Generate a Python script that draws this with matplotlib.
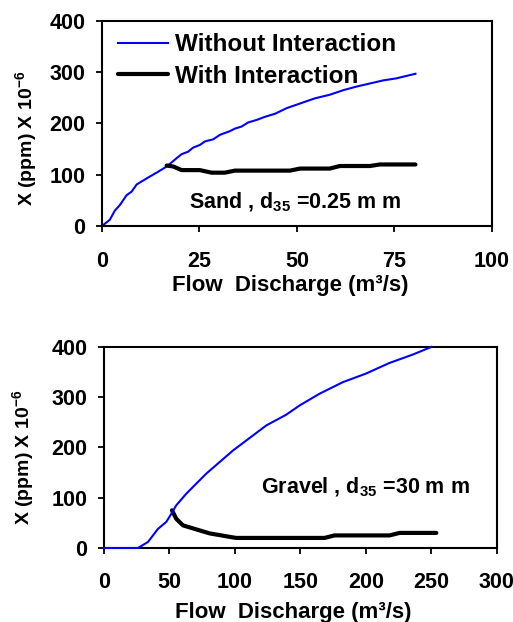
import matplotlib
matplotlib.use("Agg")
import matplotlib.pyplot as plt

plt.rcParams['font.family'] = ['Liberation Sans', 'DejaVu Sans']
plt.rcParams['font.weight'] = 'bold'
plt.rcParams['mathtext.fontset'] = 'custom'
plt.rcParams['mathtext.rm'] = 'Liberation Sans'
plt.rcParams['mathtext.bf'] = 'Liberation Sans:bold'
plt.rcParams['mathtext.it'] = 'Liberation Sans:italic'

# ---- Sand panel data ----
sand_q_without = [0, 2, 3.3, 4.6, 6.3, 7.6, 8.9, 11.5, 14, 16.6, 19.1, 20.4, 22.1, 23.4,
                  25.1, 26.4, 28.5, 30.3, 32.8, 34.1, 35.8, 37.5, 39.7, 41.8, 44.4, 47.4,
                  50.8, 54.6, 58.4, 61.9, 65.3, 68.7, 72.1, 75.5, 80.4]
sand_x_without = [0, 12, 30, 41, 60, 67, 81, 93, 104, 116, 132, 140, 145, 153,
                  158, 165, 169, 178, 185, 190, 194, 202, 207, 213, 219, 230,
                  239, 249, 256, 265, 272, 278, 284, 288, 297]
sand_q_with = [16.6, 18.3, 20.4, 25.1, 28.1, 31.5, 34.1, 48.2, 50.8, 58.4, 61, 68.7, 71.3, 80.4]
sand_x_with = [118, 116, 109, 109, 104, 104, 108, 108, 112, 112, 117, 117, 120, 120]

# ---- Gravel panel data ----
grav_q_without = [0, 26, 33.6, 41.2, 47.6, 51.4, 55.2, 62.8, 78.1, 98.5, 124, 139,
                  149.6, 164.6, 182.4, 200, 217.8, 235.9, 249.9]
grav_x_without = [0, 0, 12, 38, 52, 68, 85, 108, 148, 194, 244, 265,
                  284, 307, 330, 347, 368, 385, 400]
grav_q_with = [51.9, 55.2, 60.3, 73, 80.7, 98.5, 101, 168.4, 176, 218, 225.7, 253.7]
grav_x_with = [75, 58, 45, 35, 29, 21, 20, 20, 25, 25, 30, 30]

sand_xticks = [0, 25, 50, 75, 100]
grav_xticks = [0, 50, 100, 150, 200, 250, 300]
yticks = [0, 100, 200, 300, 400]

BLUE = '#0000ff'
fig = plt.figure(figsize=(5.13, 6.22), dpi=100)

ylabel = r'X $\mathrm{(}$ppm$\mathrm{)}$ $\mathrm{X}$ 10$^{-6}$'
xlabel = 'Flow  Discharge (m\u00b3/s)'

def style(ax, xt, xmax, xpad):
    ax.set_xlim(0, xmax)
    ax.set_ylim(0, 400)
    ax.set_xticks(xt)
    ax.set_yticks(yticks)
    ax.tick_params(direction='out', length=4, width=1.3, labelsize=15.5)
    ax.tick_params(axis='x', pad=xpad)
    ax.tick_params(axis='y', pad=8)
    for lab in ax.get_xticklabels() + ax.get_yticklabels():
        lab.set_fontweight('bold')
    for s in ax.spines.values():
        s.set_linewidth(1.5)

ax1 = fig.add_axes([0.1988, 0.6367, 0.760, 0.3296])
ax1.plot(sand_q_without, sand_x_without, color=BLUE, lw=1.5, label='Without Interaction')
ax1.plot(sand_q_with, sand_x_with, color='black', lw=3, label='With Interaction',
         solid_capstyle='round')
style(ax1, sand_xticks, 100, 14)
ax1.legend(loc='upper left', bbox_to_anchor=(16 / 390, 0.940), frameon=False,
           handlelength=2.05, handletextpad=0.3, labelspacing=0.35, borderaxespad=0,
           borderpad=0, prop={'size': 17.5, 'weight': 'bold'})
ax1.text(0.495, 0.117, r'Sand , d$_{\mathrm{35}}$ =0.25 m m', transform=ax1.transAxes,
         ha='center', va='center', fontsize=15.5, fontweight='bold')
fig.text(0.050, 0.778, ylabel, rotation=90, ha='center', va='center',
         fontsize=14, fontweight='bold')
fig.text(0.565, 0.532, xlabel, ha='center', va='baseline', fontsize=16, fontweight='bold')

ax2 = fig.add_axes([0.2027, 0.119, 0.766, 0.3232])
ax2.plot(grav_q_without, grav_x_without, color=BLUE, lw=1.5, clip_on=False, zorder=3)
ax2.plot(grav_q_with, grav_x_with, color='black', lw=3, solid_capstyle='round')
style(ax2, grav_xticks, 300, 13)
ax2.text(0.665, 0.30, r'Gravel , d$_{\mathrm{35}}$ =30 m m', transform=ax2.transAxes,
         ha='center', va='center', fontsize=15.5, fontweight='bold')
fig.text(0.044, 0.264, ylabel, rotation=90, ha='center', va='center',
         fontsize=14, fontweight='bold')
fig.text(0.571, 0.007, xlabel, ha='center', va='baseline', fontsize=16, fontweight='bold')

fig.savefig('out.png', dpi=100)
